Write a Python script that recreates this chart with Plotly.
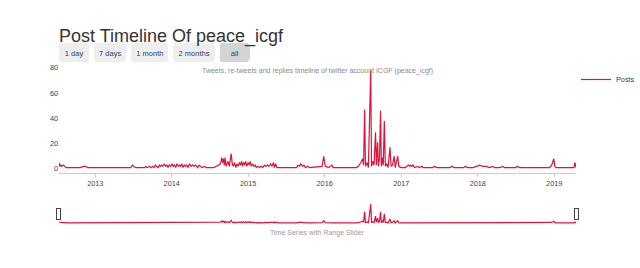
import plotly.graph_objects as go

dates = [
    "2012-07-12", "2012-07-16", "2012-07-20", "2012-07-25", "2012-08-02", "2012-08-08", "2012-08-15",
    "2012-09-10", "2012-10-20", "2012-11-08", "2012-11-16", "2012-11-25", "2013-03-01", "2013-06-20",
    "2013-06-28", "2013-07-05", "2013-07-12", "2013-08-25", "2013-08-30", "2013-09-05", "2013-09-18",
    "2013-09-25", "2013-10-02", "2013-10-08", "2013-10-15", "2013-10-20", "2013-10-28", "2013-11-04",
    "2013-11-09", "2013-11-14", "2013-11-20", "2013-11-27", "2013-12-03", "2013-12-09", "2013-12-14",
    "2013-12-20", "2013-12-27", "2014-01-03", "2014-01-08", "2014-01-14", "2014-01-20", "2014-01-26",
    "2014-02-01", "2014-02-07", "2014-02-12", "2014-02-18", "2014-02-24", "2014-03-02", "2014-03-08",
    "2014-03-14", "2014-03-20", "2014-03-27", "2014-04-03", "2014-04-10", "2014-04-17", "2014-04-25",
    "2014-05-05", "2014-05-12", "2014-05-18", "2014-05-26", "2014-06-08", "2014-06-15", "2014-07-20",
    "2014-08-05", "2014-08-14", "2014-08-22", "2014-08-28", "2014-09-01", "2014-09-05", "2014-09-09",
    "2014-09-13", "2014-09-17", "2014-09-22", "2014-09-27", "2014-10-03", "2014-10-12", "2014-10-17",
    "2014-10-22", "2014-10-28", "2014-11-03", "2014-11-08", "2014-11-14", "2014-11-20", "2014-11-25",
    "2014-12-01", "2014-12-05", "2014-12-10", "2014-12-15", "2014-12-20", "2014-12-26", "2015-01-01",
    "2015-01-06", "2015-01-11", "2015-01-16", "2015-01-22", "2015-01-28", "2015-02-03", "2015-02-09",
    "2015-02-16", "2015-02-25", "2015-03-05", "2015-03-12", "2015-03-20", "2015-03-27", "2015-04-03",
    "2015-04-10", "2015-04-18", "2015-04-25", "2015-05-02", "2015-05-06", "2015-05-12", "2015-05-18",
    "2015-05-25", "2015-08-20", "2015-08-27", "2015-09-03", "2015-09-10", "2015-09-17", "2015-09-24",
    "2015-10-02", "2015-10-12", "2015-10-20", "2015-12-20", "2015-12-28", "2016-01-04", "2016-01-20",
    "2016-02-05", "2016-02-10", "2016-06-01", "2016-06-10", "2016-06-22", "2016-06-30", "2016-07-05",
    "2016-07-10", "2016-07-14", "2016-07-22", "2016-07-28", "2016-08-08", "2016-08-12", "2016-08-18",
    "2016-08-24", "2016-08-31", "2016-09-04", "2016-09-10", "2016-09-14", "2016-09-19", "2016-09-24",
    "2016-09-28", "2016-10-03", "2016-10-07", "2016-10-12", "2016-10-17", "2016-10-24", "2016-10-30",
    "2016-11-08", "2016-11-13", "2016-11-20", "2016-11-28", "2016-12-03", "2016-12-15", "2016-12-20",
    "2016-12-30", "2017-01-20", "2017-02-05", "2017-02-10", "2017-02-15", "2017-02-20", "2017-02-26",
    "2017-03-05", "2017-03-20", "2017-03-27", "2017-04-10", "2017-04-15", "2017-06-01", "2017-06-10",
    "2017-06-18", "2017-08-20", "2017-09-01", "2017-09-08", "2017-10-25", "2017-11-05", "2017-11-12",
    "2017-12-10", "2017-12-25", "2018-01-10", "2018-01-25", "2018-02-10", "2018-02-25", "2018-03-15",
    "2018-03-22", "2018-04-15", "2018-05-01", "2018-05-08", "2018-07-01", "2018-07-10", "2018-07-18",
    "2018-12-10", "2018-12-20", "2018-12-30", "2019-01-04", "2019-01-10", "2019-04-05", "2019-04-10",
    "2019-04-15",
]

posts = [
    5, 2, 3, 2, 3, 2, 1,
    1, 1, 2, 2, 1, 1, 1,
    3, 2, 1, 1, 2, 1, 2,
    1, 2, 1, 3, 2, 1, 3,
    2, 3, 2, 4, 2, 3, 1,
    3, 2, 4, 2, 3, 1, 4,
    2, 3, 2, 4, 1, 3, 2,
    3, 1, 4, 2, 3, 2, 3,
    1, 3, 2, 1, 2, 1, 1,
    2, 3, 4, 9, 5, 8, 3,
    9, 2, 4, 6, 2, 12, 4,
    2, 5, 1, 4, 2, 5, 3,
    6, 2, 5, 3, 6, 2, 5,
    3, 6, 2, 4, 2, 3, 1,
    2, 1, 2, 1, 3, 2, 3,
    2, 4, 2, 5, 1, 4, 1,
    1, 1, 3, 2, 4, 2, 3,
    1, 2, 1, 2, 10, 2, 1,
    3, 1, 1, 2, 5, 8, 3,
    47, 2, 5, 1, 78, 2, 6,
    3, 29, 3, 21, 2, 8, 46,
    2, 9, 3, 38, 2, 4, 1,
    17, 2, 3, 10, 1, 10, 2,
    1, 1, 3, 2, 3, 2, 3,
    1, 2, 1, 2, 1, 1, 2,
    1, 1, 2, 1, 1, 2, 1,
    1, 2, 3, 2, 2, 1, 2,
    1, 1, 2, 1, 1, 2, 1,
    1, 3, 8, 2, 1, 1, 5,
    1,
]

title_text = "Post Timeline Of peace_icgf"
subtitle_text = "Tweets, re-tweets and replies timeline of twitter account ICGF (peace_icgf)"
xaxis_title = "Time Series with Range Slider"
series_name = "Posts"
button_labels = ["1 day", "7 days", "1 month", "2 months", "all"]

fig = go.Figure()
fig.add_trace(go.Scatter(x=dates, y=posts, mode="lines", name=series_name,
                         line=dict(color="#DC143C", width=1.2)))

fig.update_layout(
    template="none",
    width=640, height=268,
    margin=dict(l=59, r=0, t=65, b=44, pad=0),
    paper_bgcolor="white", plot_bgcolor="white",
    font=dict(family="Liberation Sans, Arial, sans-serif", size=7.3, color="#2a3f5f"),
    title=dict(text=title_text, xref="paper", x=0, xanchor="left",
               y=1 - 36 / 268, yanchor="middle",
               font=dict(size=18, color="#333333")),
    showlegend=True,
    legend=dict(xref="container", x=576 / 640, xanchor="left", yref="paper", y=1, yanchor="top",
                font=dict(size=7.3, color="#2a3f5f"), bgcolor="rgba(0,0,0,0)"),
    annotations=[
        dict(text=subtitle_text, xref="paper", yref="paper", x=0.5, y=1.0,
             xanchor="center", yanchor="top", showarrow=False,
             font=dict(size=7, color="#8a8a8a")),
        dict(text=xaxis_title, xref="paper", yref="paper", x=0.5, y=-(233 - 173) / 108,
             xanchor="center", yanchor="middle", showarrow=False,
             font=dict(size=7, color="#9a9a9a")),
    ],
    xaxis=dict(
        type="date", dtick="M12", tickformat="%Y",
        showgrid=False, showline=True, linecolor="#cccccc", linewidth=1,
        ticks="outside", tickcolor="#cccccc", ticklen=3, zeroline=False,
        tickfont=dict(size=7.3, color="#444444"),
        rangeslider=dict(visible=True, thickness=0.133, bgcolor="white",
                         bordercolor="#ffffff", borderwidth=0),
        rangeselector=dict(
            buttons=[
                dict(count=1, label=button_labels[0], step="day", stepmode="backward"),
                dict(count=7, label=button_labels[1], step="day", stepmode="backward"),
                dict(count=1, label=button_labels[2], step="month", stepmode="backward"),
                dict(count=2, label=button_labels[3], step="month", stepmode="backward"),
                dict(label=button_labels[4], step="all"),
            ],
            font=dict(size=7.5, color="#2a3f5f"),
            bgcolor="#eeeeee", activecolor="#d4d4d4",
        ),
    ),
    yaxis=dict(showgrid=False, zeroline=False, showline=False, ticks="",
               tickfont=dict(size=7.3, color="#2a3f5f")),
)

fig.write_html("out.html")
